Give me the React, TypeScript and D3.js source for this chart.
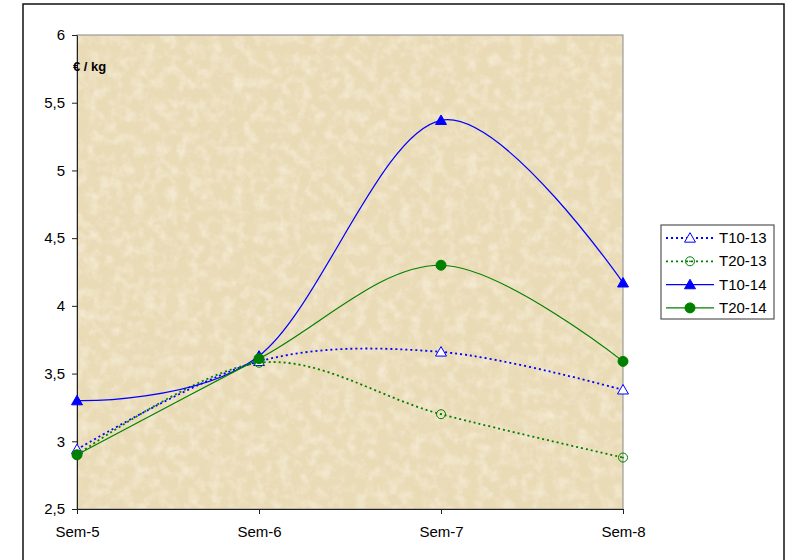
import React, { useEffect, useRef } from 'react';
import * as d3 from 'd3';

const categories = ['Sem-5', 'Sem-6', 'Sem-7', 'Sem-8'];
const yTicks = [2.5, 3, 3.5, 4, 4.5, 5, 5.5, 6];

const t10_13 = [2.94, 3.59, 3.66, 3.38];
const t20_13 = [2.9, 3.58, 3.2, 2.88];
const t10_14 = [3.3, 3.63, 5.37, 4.17];
const t20_14 = [2.9, 3.61, 4.3, 3.59];

const seriesNames = ['T10-13', 'T20-13', 'T10-14', 'T20-14'];

const BLUE = '#0000ff';
const GREEN = '#008000';

const App: React.FC = () => {
  const svgRef = useRef<SVGSVGElement | null>(null);

  useEffect(() => {
    document.body.style.margin = '0';
    if (!svgRef.current) return;
    const svg = d3.select(svgRef.current);
    svg.selectAll('*').remove();

    const width = 794;
    const height = 560;
    const plot = { left: 77, top: 35, right: 623, bottom: 509 };

    // outer frame
    svg.append('rect')
      .attr('x', 23).attr('y', 4)
      .attr('width', 761).attr('height', 600)
      .attr('fill', '#fff')
      .attr('stroke', '#111')
      .attr('stroke-width', 1.5);

    // paper texture for the plot area
    const defs = svg.append('defs');
    const filter = defs.append('filter').attr('id', 'tex')
      .attr('x', 0).attr('y', 0).attr('width', 1).attr('height', 1);
    filter.append('feTurbulence')
      .attr('type', 'fractalNoise')
      .attr('baseFrequency', 0.09)
      .attr('numOctaves', 4)
      .attr('seed', 3)
      .attr('result', 'noise');
    filter.append('feColorMatrix')
      .attr('in', 'noise')
      .attr('type', 'matrix')
      .attr('values', '0 0 0 0 1  0 0 0 0 0.97  0 0 0 0 0.88  1.8 0 0 0 -0.75');

    svg.append('rect')
      .attr('x', plot.left).attr('y', plot.top)
      .attr('width', plot.right - plot.left).attr('height', plot.bottom - plot.top)
      .attr('fill', '#eadbb7');
    svg.append('rect')
      .attr('x', plot.left).attr('y', plot.top)
      .attr('width', plot.right - plot.left).attr('height', plot.bottom - plot.top)
      .attr('filter', 'url(#tex)')
      .attr('opacity', 0.55);
    svg.append('rect')
      .attr('x', plot.left).attr('y', plot.top)
      .attr('width', plot.right - plot.left).attr('height', plot.bottom - plot.top)
      .attr('fill', 'none')
      .attr('stroke', '#8a8a8a')
      .attr('stroke-width', 1);

    const x = d3.scalePoint<string>()
      .domain(categories)
      .range([plot.left, plot.right])
      .padding(0);
    const y = d3.scaleLinear().domain([2.5, 6]).range([plot.bottom, plot.top]);

    const font = '"Liberation Sans", Arial, sans-serif';

    // y axis
    const yAxis = svg.append('g')
      .attr('transform', `translate(${plot.left},0)`)
      .call(d3.axisLeft(y).tickValues(yTicks).tickSize(5).tickSizeOuter(0)
        .tickFormat(d => d3.format('')(d as number).replace('.', ',')));
    yAxis.select('.domain').attr('stroke', '#222');
    yAxis.selectAll('line').attr('stroke', '#222');
    yAxis.selectAll('text')
      .attr('font-family', font).attr('font-size', 15).attr('fill', '#000')
      .attr('x', -12);

    // x axis
    const xAxis = svg.append('g')
      .attr('transform', `translate(0,${plot.bottom})`)
      .call(d3.axisBottom(x).tickSize(5).tickSizeOuter(0));
    xAxis.select('.domain').attr('stroke', '#222');
    xAxis.selectAll('line').attr('stroke', '#222');
    xAxis.selectAll('text')
      .attr('font-family', font).attr('font-size', 15).attr('fill', '#000')
      .attr('y', 17);

    svg.append('text')
      .attr('x', 73).attr('y', 71)
      .attr('font-family', font).attr('font-size', 13).attr('font-weight', 'bold')
      .text('€ / kg');

    const line = d3.line<number>()
      .x((_, i) => x(categories[i]) as number)
      .y(d => y(d))
      .curve(d3.curveCardinal.tension(0));

    const tri = d3.symbol().type(d3.symbolTriangle).size(52);

    const series = [
      { name: seriesNames[0], values: t10_13, color: BLUE, dash: '2,3', width: 1.8, marker: 'tri', filled: false },
      { name: seriesNames[1], values: t20_13, color: GREEN, dash: '2,3', width: 1.8, marker: 'circ', filled: false },
      { name: seriesNames[2], values: t10_14, color: BLUE, dash: null, width: 1.2, marker: 'tri', filled: true },
      { name: seriesNames[3], values: t20_14, color: GREEN, dash: null, width: 1.2, marker: 'circ', filled: true },
    ];

    const drawMarker = (g: any, s: typeof series[0], cx: number, cy: number) => {
      if (s.marker === 'tri') {
        g.append('path')
          .attr('d', tri()!)
          .attr('transform', `translate(${cx},${cy + 1})`)
          .attr('fill', s.filled ? s.color : '#fff')
          .attr('stroke', s.color)
          .attr('stroke-width', 1);
      } else {
        g.append('circle')
          .attr('cx', cx).attr('cy', cy).attr('r', s.filled ? 5 : 4.5)
          .attr('fill', s.filled ? s.color : 'none')
          .attr('stroke', s.color)
          .attr('stroke-width', 1);
        if (!s.filled) {
          g.append('circle').attr('cx', cx).attr('cy', cy).attr('r', 0.9).attr('fill', s.color);
        }
      }
    };

    series.forEach(s => {
      const g = svg.append('g');
      g.append('path')
        .attr('d', line(s.values)!)
        .attr('fill', 'none')
        .attr('stroke', s.color)
        .attr('stroke-width', s.width)
        .attr('stroke-dasharray', s.dash ?? null);
      s.values.forEach((v, i) => drawMarker(g, s, x(categories[i]) as number, y(v)));
    });

    // legend
    const lg = svg.append('g');
    lg.append('rect')
      .attr('x', 661).attr('y', 225).attr('width', 113).attr('height', 94)
      .attr('fill', '#fff').attr('stroke', '#555').attr('stroke-width', 1.2);
    series.forEach((s, i) => {
      const cy = 238 + i * 23.3;
      lg.append('line')
        .attr('x1', 666).attr('x2', 714).attr('y1', cy).attr('y2', cy)
        .attr('stroke', s.color).attr('stroke-width', s.width)
        .attr('stroke-dasharray', s.dash ?? null);
      drawMarker(lg, s, 690, cy);
      lg.append('text')
        .attr('x', 719).attr('y', cy + 5)
        .attr('font-family', font).attr('font-size', 15)
        .text(s.name);
    });

    svg.attr('viewBox', `0 0 ${width} ${height}`);
  }, []);

  return <svg ref={svgRef} width={794} height={560} style={{ display: 'block' }} />;
};

export default App;
